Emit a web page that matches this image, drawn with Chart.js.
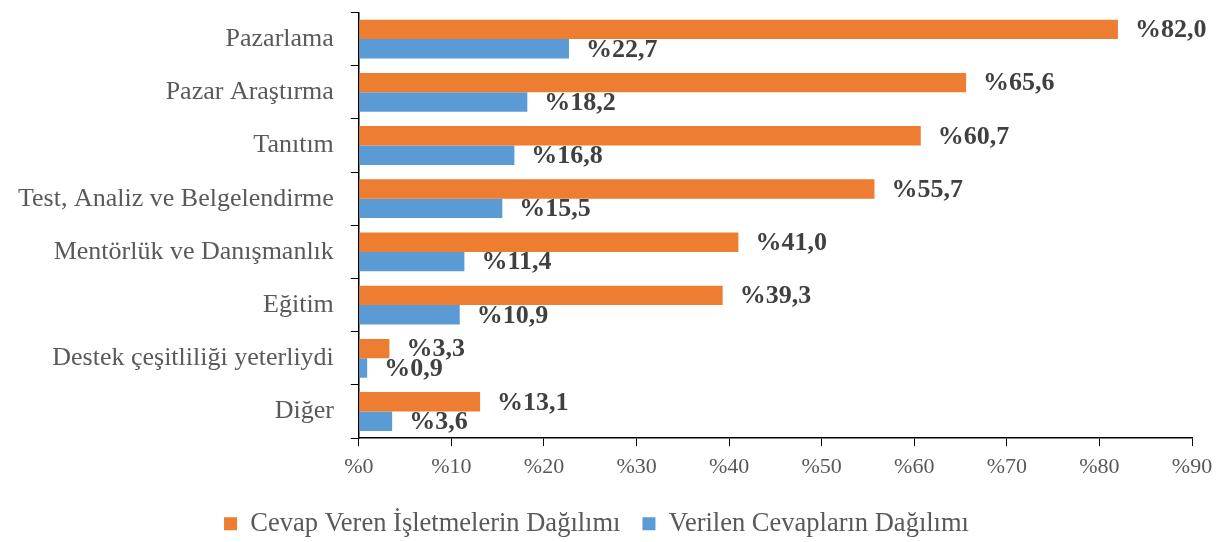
<!DOCTYPE html>
<html>
<head>
<meta charset="utf-8">
<script src="https://cdn.jsdelivr.net/npm/chart.js"></script>
<style>
  body { margin: 0; background: #fff; overflow: hidden; }
  #wrap { position: relative; top: -11px; width: 1222px; height: 553px; }
</style>
</head>
<body>
<div id="wrap"><canvas id="chart"></canvas></div>
<script>
const categories = ['Pazarlama', 'Pazar Araştırma', 'Tanıtım', 'Test, Analiz ve Belgelendirme',
  'Mentörlük ve Danışmanlık', 'Eğitim', 'Destek çeşitliliği yeterliydi', 'Diğer'];
const isletmeler = [82.0, 65.6, 60.7, 55.7, 41.0, 39.3, 3.3, 13.1];
const cevaplar = [22.7, 18.2, 16.8, 15.5, 11.4, 10.9, 0.9, 3.6];
const seriesNames = ['Cevap Veren İşletmelerin Dağılımı', 'Verilen Cevapların Dağılımı'];

const serif = '"Liberation Serif", "DejaVu Serif", serif';

// value labels at the end of each bar
const valueLabels = {
  id: 'valueLabels',
  afterDatasetsDraw(chart) {
    const ctx = chart.ctx;
    ctx.save();
    ctx.font = 'bold 26px ' + serif;
    ctx.fillStyle = '#404040';
    ctx.textBaseline = 'middle';
    chart.data.datasets.forEach((ds, i) => {
      chart.getDatasetMeta(i).data.forEach((bar, j) => {
        const txt = '%' + ds.data[j].toFixed(1).replace('.', ',');
        ctx.fillText(txt, bar.x + 17, bar.y + 1);
      });
    });
    ctx.restore();
  }
};

new Chart(document.getElementById('chart'), {
  type: 'bar',
  data: {
    labels: categories,
    datasets: [
      { label: seriesNames[0], data: isletmeler, backgroundColor: '#ED7D31' },
      { label: seriesNames[1], data: cevaplar, backgroundColor: '#5B9BD5' }
    ]
  },
  options: {
    indexAxis: 'y',
    responsive: true,
    maintainAspectRatio: false,
    animation: false,
    categoryPercentage: 0.73,
    barPercentage: 1,
    layout: { padding: { top: 0, right: 30, left: 1, bottom: -5 } },
    scales: {
      x: {
        min: 0, max: 90,
        ticks: {
          stepSize: 10,
          color: '#595959',
          font: { family: serif, size: 22 },
          padding: 8,
          callback: v => '%' + v
        },
        grid: { drawOnChartArea: false, tickLength: 8, color: '#000' },
        border: { color: '#000', width: 1.5 }
      },
      y: {
        ticks: { color: '#595959', font: { family: serif, size: 26, lineHeight: 0.5 }, padding: 17 },
        grid: { drawOnChartArea: false, tickLength: 8, color: '#000' },
        border: { color: '#000', width: 1.5 }
      }
    },
    plugins: {
      legend: {
        position: 'bottom',
        labels: {
          color: '#595959',
          font: { family: serif, size: 26.5 },
          boxWidth: 13, boxHeight: 13,
          padding: 22
        }
      },
      tooltip: { enabled: false }
    }
  },
  plugins: [valueLabels]
});
</script>
</body>
</html>
